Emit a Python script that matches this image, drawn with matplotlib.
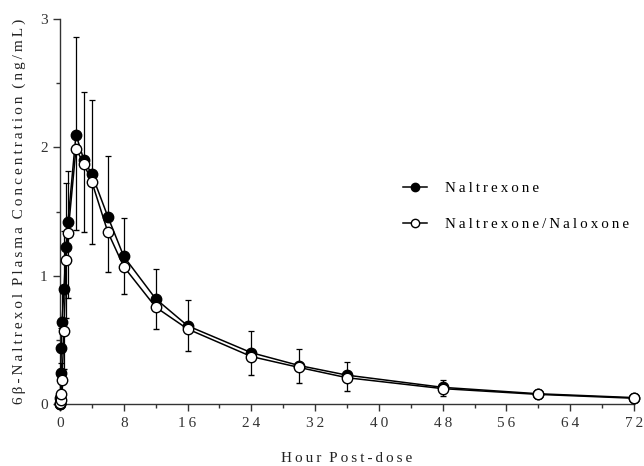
import matplotlib
matplotlib.use("Agg")
import matplotlib.pyplot as plt
from matplotlib.lines import Line2D
from matplotlib.ticker import MultipleLocator

plt.rcParams['font.family'] = ['Liberation Serif', 'DejaVu Serif']

# sampling times (h)
hours = [0, 0.05, 0.083, 0.167, 0.25, 0.5, 0.75, 1, 2, 3, 4, 6, 8, 12, 16, 24, 30, 36, 48, 60, 72]

naltrexone = [0, 0.05, 0.24, 0.44, 0.64, 0.90, 1.22, 1.42, 2.10, 1.90, 1.79, 1.46, 1.15,
              0.82, 0.61, 0.40, 0.30, 0.225, 0.13, 0.08, 0.05]
naltrexone_err = [0, 0.02, 0.08, 0.15, 0.25, 0.45, 0.50, 0.40, 0.76, 0.53, 0.58, 0.47, 0.30,
                  0.23, 0.20, 0.17, 0.13, 0.10, 0.06, 0.03, 0.01]

combo = [0, 0.01, 0.03, 0.08, 0.19, 0.57, 1.12, 1.33, 1.99, 1.87, 1.73, 1.34, 1.07,
         0.755, 0.585, 0.37, 0.285, 0.205, 0.12, 0.075, 0.045]
combo_err = [0, 0.005, 0.02, 0.05, 0.10, 0.30, 0.45, 0.50, 0.63, 0.53, 0.48, 0.31, 0.21,
             0.17, 0.175, 0.14, 0.12, 0.10, 0.06, 0.03, 0.01]

x_ticks = [0, 8, 16, 24, 32, 40, 48, 56, 64, 72]
y_ticks = [0, 1, 2, 3]


def spaced(s):
    # mimic the wide letter tracking of the original figure
    return '\u2009'.join(s).replace('\u2009 \u2009', '  ')


fig = plt.figure(figsize=(6.44, 4.66), dpi=100)
ax = fig.add_axes([0.0932, 0.133, 0.8913, 0.826])

ax.errorbar(hours, naltrexone, yerr=[[0] * len(hours), naltrexone_err], color='black',
            marker='o', markersize=7.5, markerfacecolor='black', linewidth=1.1,
            elinewidth=0.9, capsize=2.5, capthick=0.9, clip_on=False, zorder=3)
ax.errorbar(hours, combo, yerr=[combo_err, [0] * len(hours)], color='black',
            marker='o', markersize=7.5, markerfacecolor='white', markeredgewidth=1.0,
            linewidth=1.1, elinewidth=0.9, capsize=2.5, capthick=0.9, clip_on=False,
            zorder=3)

ax.set_xlim(0, 72)
ax.set_ylim(0, 3)
ax.set_xticks(x_ticks)
ax.set_xticklabels([spaced(str(v)) for v in x_ticks])
ax.set_yticks(y_ticks)
ax.xaxis.set_minor_locator(MultipleLocator(4))
ax.yaxis.set_minor_locator(MultipleLocator(0.5))

for side in ['top', 'right']:
    ax.spines[side].set_visible(False)
for side in ['left', 'bottom']:
    ax.spines[side].set_linewidth(1.0)
    ax.spines[side].set_color('#333333')

ax.tick_params(which='major', direction='out', length=5, width=1.0, labelsize=11,
               colors='#333333')
ax.tick_params(which='minor', direction='out', length=3, width=1.0, colors='#333333')
ax.tick_params(axis='y', pad=4)
ax.tick_params(axis='x', pad=4)

ax.set_xlabel(spaced('Hour Post-dose'), fontsize=11, color='#222222', labelpad=16)
ax.set_ylabel(spaced('6β-Naltrexol Plasma Concentration (ng/mL)'),
              fontsize=11, color='#222222', labelpad=10)

handles = [
    Line2D([], [], color='black', linewidth=1.1, marker='o', markersize=6,
           markerfacecolor='black'),
    Line2D([], [], color='black', linewidth=1.1, marker='o', markersize=6,
           markerfacecolor='white'),
]
fig.legend(handles, [spaced('Naltrexone'), spaced('Naltrexone/Naloxone')],
           loc='upper left', bbox_to_anchor=(0.626, 0.611), frameon=False,
           fontsize=10.8, handlelength=1.6, labelspacing=1.5, handletextpad=1.2,
           borderpad=0, borderaxespad=0)

fig.savefig('out.png', dpi=100)
